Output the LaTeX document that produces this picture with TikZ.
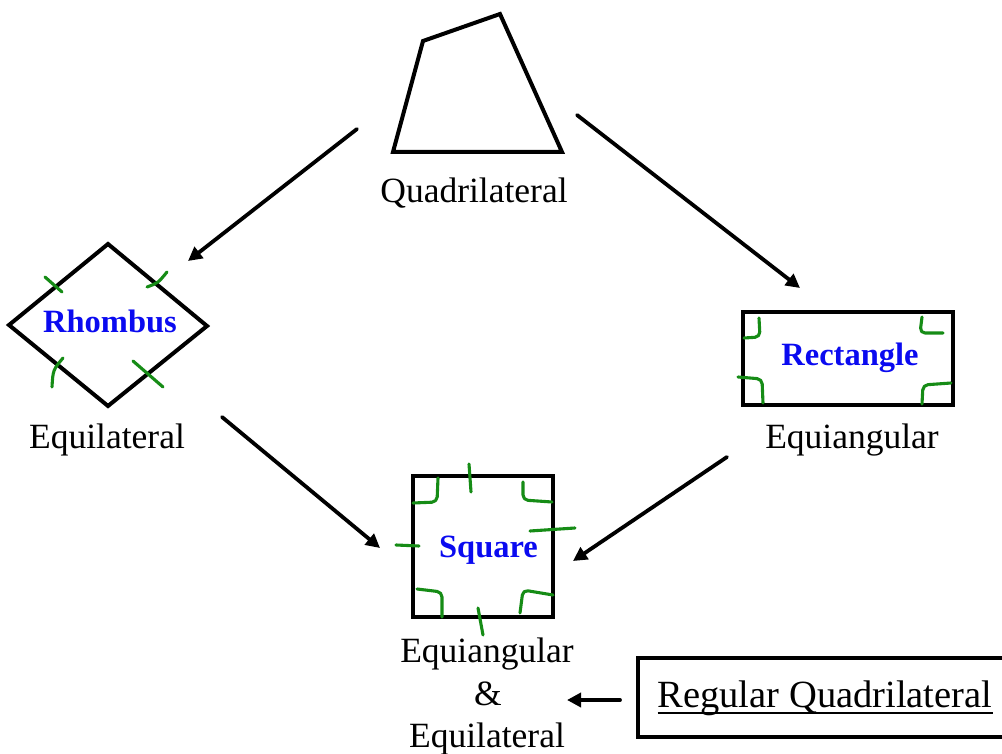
\documentclass[tikz,border=0pt]{standalone}
\usepackage{fontspec}
\setmainfont{Liberation Serif}
\usetikzlibrary{arrows.meta,calc}
\definecolor{tickgreen}{RGB}{22,140,22}
\definecolor{lblblue}{RGB}{10,10,240}
\tikzset{
  shapeline/.style={line width=4pt, black},
  conn/.style={line width=3.8pt, line cap=round, -{Triangle[length=14pt,width=14pt]}},
  tickg/.style={line width=3.1pt, tickgreen, line cap=round, line join=round},
  cornerg/.style={tickg, rounded corners=5pt},
  plain/.style={font=\fontsize{35.5}{40}\selectfont, inner sep=0pt, anchor=base},
  bluelbl/.style={font=\fontsize{32.5}{36}\selectfont\bfseries, text=lblblue, inner sep=0pt, anchor=base},
}
\begin{document}
\begin{tikzpicture}[x=1pt,y=-1pt]
\useasboundingbox (0,0) rectangle (1002,754);

% Quadrilateral
\coordinate (qa) at (393,152);
\coordinate (qb) at (423,41);
\coordinate (qc) at (500,14);
\coordinate (qd) at (562,152);
\draw[shapeline] (qa) -- (qb) -- (qc) -- (qd) -- cycle;
\node[plain] (quadtxt) at (474,203) {Quadrilateral};

% Rhombus
\coordinate (rt) at (108,244);
\coordinate (rr) at (207,326);
\coordinate (rb) at (108,406);
\coordinate (rl) at (9,325);
\draw[shapeline] (rt) -- (rr) -- (rb) -- (rl) -- cycle;
\node[bluelbl] (rhomb) at (110,332) {Rhombus};
\node[plain] (rhombtxt) at (107,448) {Equilateral};
\draw[tickg] (45,277) -- (62,292);
\draw[tickg] (147,287) .. controls (158,283) .. (167,272);
\draw[tickg] (63,358) .. controls (53,370) .. (52,387);
\draw[tickg] (133,361) -- (163,387);

% Rectangle
\node[shapeline, draw, minimum width=210pt, minimum height=93pt, inner sep=0pt] (rect) at (848,358.5) {};
\node[bluelbl] (recttxt) at (850,365) {Rectangle};
\node[plain] (rectlbl) at (852,448) {Equiangular};
\draw[cornerg] (759,318) -- (760,337) -- (744,338);
\draw[cornerg] (922,317) -- (920,333) -- (943,333);
\draw[cornerg] (738,377) -- (762,379) -- (763,403);
\draw[cornerg] (922,404) -- (923,385) -- (951,383);

% Square
\node[shapeline, draw, minimum width=140pt, minimum height=141pt, inner sep=0pt] (sq) at (483,546.5) {};
\node[bluelbl] (sqtxt) at (488.5,557) {Square};
\draw[tickg] (469,464) -- (471,492);
\draw[tickg] (396,545) -- (419,546);
\draw[tickg] (530,531) -- (575,528);
\draw[tickg] (478,608) -- (483,635);
\draw[cornerg] (438,478) -- (437,502) -- (413,503);
\draw[cornerg] (523,482) -- (523,500) -- (552,502);
\draw[cornerg] (417,589) -- (442,592) -- (442,617);
\draw[cornerg] (553,595) -- (523,590) -- (520,613);
\node[plain] (sql1) at (487,662) {Equiangular};
\node[plain] (sqamp) at (488,705) {\&};
\node[plain] (sql2) at (487,747) {Equilateral};

% Regular quadrilateral box
\draw[shapeline] (1012,658) -- (638,658) -- (638,737) -- (1012,737);
\node[font=\fontsize{38.5}{42}\selectfont, inner sep=0pt, anchor=base] (regq) at (825,707) {Regular Quadrilateral};
\draw[line width=1.8pt] ($(regq.base west)+(0,6)$) -- ($(regq.base east)+(0,6)$);

% Connectors
\coordinate (c1s) at (357,129); \coordinate (c1e) at (188,261);
\coordinate (c2s) at (577,115); \coordinate (c2e) at (800,288);
\coordinate (c3s) at (222,417); \coordinate (c3e) at (380,548);
\coordinate (c4s) at (727,457); \coordinate (c4e) at (573,561);
\coordinate (c5s) at (620,700); \coordinate (c5e) at (567,700);
\draw[conn] (c1s) -- (c1e);
\draw[conn] (c2s) -- (c2e);
\draw[conn] (c3s) -- (c3e);
\draw[conn] (c4s) -- (c4e);
\draw[conn] (c5s) -- (c5e);
\end{tikzpicture}
\end{document}
